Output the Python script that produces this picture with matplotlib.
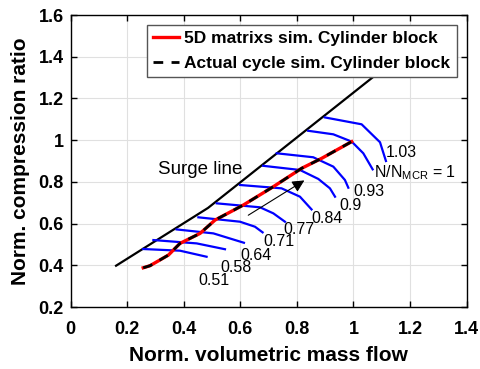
import matplotlib
matplotlib.use("Agg")
import matplotlib.pyplot as plt

plt.rcParams['font.family'] = ['Liberation Sans', 'DejaVu Sans']
plt.rcParams['mathtext.fontset'] = 'custom'
plt.rcParams['mathtext.rm'] = 'Liberation Sans'
plt.rcParams['mathtext.it'] = 'Liberation Sans:italic'

# Surge line
surge_x = [0.161, 0.486, 1.095]
surge_y = [0.398, 0.675, 1.330]

# Speed lines (normalized speed)
speed_labels = ['0.51', '0.58', '0.64', '0.71', '0.77', '0.84', '0.9', '0.93',
                r'N/N$_{\mathrm{MCR}}$ = 1', '1.03']
speed_x = [
    [0.257, 0.387, 0.481],
    [0.293, 0.446, 0.546],
    [0.375, 0.505, 0.613],
    [0.452, 0.599, 0.652, 0.679],
    [0.517, 0.670, 0.717, 0.758],
    [0.599, 0.746, 0.811, 0.852],
    [0.681, 0.811, 0.876, 0.917, 0.935],
    [0.729, 0.858, 0.929, 0.970, 0.982],
    [0.840, 0.929, 0.994, 1.035, 1.068],
    [0.899, 1.029, 1.094, 1.115],
]
speed_y = [
    [0.478, 0.470, 0.441],
    [0.521, 0.505, 0.477],
    [0.572, 0.553, 0.508],
    [0.630, 0.609, 0.585, 0.558],
    [0.697, 0.678, 0.649, 0.609],
    [0.785, 0.769, 0.729, 0.668],
    [0.877, 0.857, 0.814, 0.769, 0.729],
    [0.937, 0.918, 0.873, 0.809, 0.772],
    [1.045, 1.028, 0.993, 0.937, 0.860],
    [1.109, 1.076, 0.990, 0.900],
]
label_x = [0.452, 0.531, 0.601, 0.681, 0.752, 0.852, 0.952, 0.999, 1.073, 1.115]
label_y = [0.329, 0.388, 0.449, 0.513, 0.572, 0.622, 0.689, 0.753, 0.844, 0.942]

# Operating line (both simulations)
op_x = [0.257, 0.281, 0.346, 0.387, 0.458, 0.511, 0.611, 0.717, 0.817, 0.888, 0.994]
op_y = [0.388, 0.398, 0.449, 0.505, 0.553, 0.617, 0.689, 0.777, 0.865, 0.913, 0.993]

fig = plt.figure(figsize=(4.81, 3.69), dpi=100)
ax = fig.add_axes([0.1466, 0.168, 0.8234, 0.7913])

ax.plot(surge_x, surge_y, color='black', lw=1.6)
for xs, ys in zip(speed_x, speed_y):
    ax.plot(xs, ys, color='#0000ff', lw=1.6)
l1, = ax.plot(op_x, op_y, color='#ff0000', lw=2.4, label='5D matrixs sim. Cylinder block')
l2, = ax.plot(op_x, op_y, color='black', lw=2.0, dashes=(3.5, 3.0),
              label='Actual cycle sim. Cylinder block')

for t, x, y in zip(speed_labels, label_x, label_y):
    ax.text(x, y, t, ha='left', va='center', fontsize=11.5)
ax.text(0.310, 0.857, 'Surge line', ha='left', va='center', fontsize=13.5)

ax.annotate('', xy=(0.835, 0.814), xytext=(0.620, 0.633),
            arrowprops=dict(arrowstyle='-|>', color='black', lw=0.8,
                            mutation_scale=18))

ax.set_xlim(0, 1.4)
ax.set_ylim(0.2, 1.6)
ax.set_xticks([0, 0.2, 0.4, 0.6, 0.8, 1.0, 1.2, 1.4])
ax.set_xticklabels(['0', '0.2', '0.4', '0.6', '0.8', '1', '1.2', '1.4'])
ax.set_yticks([0.2, 0.4, 0.6, 0.8, 1.0, 1.2, 1.4, 1.6])
ax.set_yticklabels(['0.2', '0.4', '0.6', '0.8', '1', '1.2', '1.4', '1.6'])
ax.tick_params(direction='in', top=True, right=True, labelsize=13, width=1, length=4)
ax.tick_params(axis='x', pad=10)
ax.tick_params(axis='y', pad=5)
for lab in ax.get_xticklabels() + ax.get_yticklabels():
    lab.set_fontweight('bold')
ax.grid(True, color='#e0e0e0', lw=0.8)
ax.set_axisbelow(True)
for s in ax.spines.values():
    s.set_linewidth(1.0)

ax.set_xlabel('Norm. volumetric mass flow', fontsize=15, fontweight='bold', labelpad=6)
ax.set_ylabel('Norm. compression ratio', fontsize=15, fontweight='bold', labelpad=6)

leg = ax.legend(handles=[l1, l2], loc='upper right', bbox_to_anchor=(0.975, 0.965),
                borderaxespad=0, fancybox=False, framealpha=1, edgecolor='#555555',
                prop={'weight': 'bold', 'size': 12.5}, handlelength=1.5,
                handletextpad=0.3, borderpad=0.35, labelspacing=0.55)
leg.get_frame().set_linewidth(1.0)

fig.savefig('out.png', dpi=100)
